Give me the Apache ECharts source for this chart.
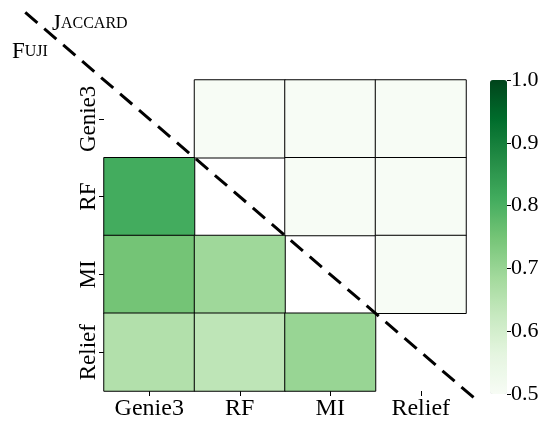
<!DOCTYPE html>
<html>
<head>
<meta charset="utf-8">
<script src="https://cdn.jsdelivr.net/npm/echarts@6/dist/echarts.min.js"></script>
</head>
<body style="margin:0">
<div id="main" style="width:544px;height:421px;"></div>
<script>
var methods = ['Genie3', 'RF', 'MI', 'Relief'];
// rows = y category, cols = x category; upper = Jaccard, lower = Fuji, diagonal empty
var scores = [
	[null, 0.5, 0.5, 0.5],
	[0.81, null, 0.5, 0.5],
	[0.75, 0.69, null, 0.5],
	[0.66, 0.64, 0.70, null]
];
var colorTicks = [0.5, 0.6, 0.7, 0.8, 0.9, 1.0];
var diagLine = [-0.87, 4.1];
var greens = ['#f7fcf5', '#e5f5e0', '#c7e9c0', '#a1d99b', '#74c476', '#41ab5d', '#238b45', '#006d2c', '#00441b'];

var font = 'Liberation Serif';
var heat = [];
for (var r = 0; r < scores.length; r++) {
	for (var c = 0; c < scores[r].length; c++) {
		if (scores[r][c] != null) heat.push([c, r, scores[r][c]]);
	}
}

var myChart = echarts.init(document.getElementById('main'));
var options = {
	backgroundColor: '#fff',
	animation: false,
	grid: [{
		left: 104, top: 80, width: 362, height: 314
	}, {
		left: 490, top: 80, width: 17, height: 314
	}],
	xAxis: [{
		type: 'category',
		data: methods,
		gridIndex: 0,
		position: 'bottom',
		axisLine: { show: false, onZero: false },
		axisTick: { show: true, alignWithLabel: true, interval: 0, length: 5, lineStyle: { color: '#000' } },
		axisLabel: { color: '#000', fontFamily: font, fontSize: 24, interval: 0, margin: 6 },
		splitLine: { show: false }
	}, {
		type: 'value', gridIndex: 0, min: 0, max: 4, position: 'top', show: false,
		axisLine: { onZero: false }
	}, {
		type: 'value', gridIndex: 1, show: false,
		axisLine: { onZero: false }
	}],
	yAxis: [{
		type: 'category',
		data: methods,
		inverse: true,
		gridIndex: 0,
		position: 'left',
		axisLine: { show: false, onZero: false },
		axisTick: { show: true, alignWithLabel: true, interval: 0, length: 5, lineStyle: { color: '#000' } },
		axisLabel: { color: '#000', fontFamily: font, fontSize: 23, rotate: 90, interval: 0, margin: 4 },
		splitLine: { show: false }
	}, {
		type: 'value', gridIndex: 0, min: 0, max: 4, inverse: true, position: 'right', show: false,
		axisLine: { onZero: false }
	}, {
		type: 'value',
		gridIndex: 1,
		position: 'right',
		min: colorTicks[0],
		max: colorTicks[colorTicks.length - 1],
		interval: 0.1,
		axisLine: { show: false, onZero: false },
		axisTick: { show: true, length: 4, lineStyle: { color: '#000' } },
		axisLabel: {
			color: '#000', fontFamily: font, fontSize: 22, margin: 4,
			formatter: function(v) { return v.toFixed(1); }
		},
		splitLine: { show: false }
	}],
	visualMap: {
		type: 'continuous',
		seriesIndex: 0,
		min: 0.5,
		max: 1.0,
		calculable: false,
		orient: 'vertical',
		left: 490,
		top: 80,
		padding: 0,
		itemWidth: 17,
		itemHeight: 314,
		showLabel: false,
		inRange: { color: greens }
	},
	series: [{
		type: 'heatmap',
		xAxisIndex: 0,
		yAxisIndex: 0,
		data: heat,
		itemStyle: { borderColor: '#000', borderWidth: 1 },
		emphasis: { disabled: true }
	}]
};
myChart.setOption(options);

// dashed separator through the cell corners, placed with the hidden value axes
var p0 = myChart.convertToPixel({ xAxisIndex: 1, yAxisIndex: 1 }, [diagLine[0], diagLine[0]]);
var p1 = myChart.convertToPixel({ xAxisIndex: 1, yAxisIndex: 1 }, [diagLine[1], diagLine[1]]);
myChart.setOption({
	graphic: [{
		type: 'line',
		z: 100,
		shape: { x1: p0[0], y1: p0[1], x2: p1[0], y2: p1[1] },
		style: { stroke: '#000', lineWidth: 3, lineDash: [16, 9] }
	}, {
		type: 'text',
		left: 52,
		top: 12,
		style: {
			text: '{a|J}{b|ACCARD}',
			rich: {
				a: { fontFamily: font, fontSize: 23, fill: '#000' },
				b: { fontFamily: font, fontSize: 16, fill: '#000' }
			}
		}
	}, {
		type: 'text',
		left: 12,
		top: 40,
		style: {
			text: '{a|F}{b|UJI}',
			rich: {
				a: { fontFamily: font, fontSize: 23, fill: '#000' },
				b: { fontFamily: font, fontSize: 16, fill: '#000' }
			}
		}
	}]
});
</script>
</body>
</html>
